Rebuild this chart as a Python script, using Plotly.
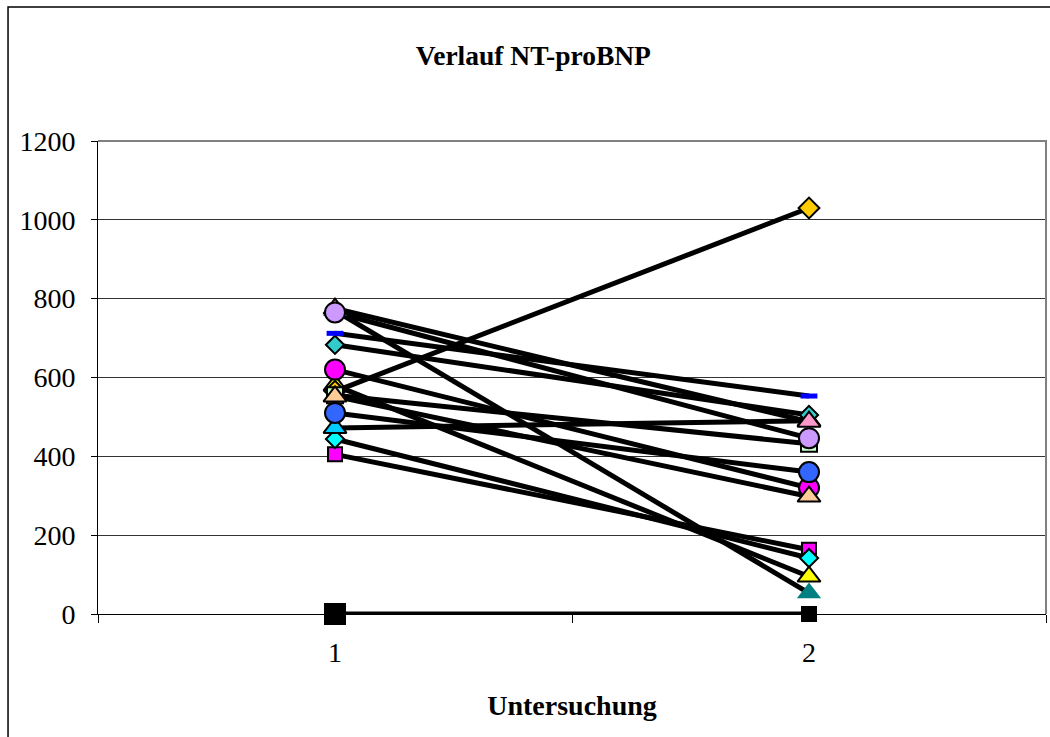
import plotly.graph_objects as go

# ---- data ----
visits = ["1", "2"]
y_ticks = [0, 200, 400, 600, 800, 1000, 1200]

black_square = [0, 0]
magenta_square = [405, 163]
cyan_diamond = [444, 142]
cyan_triangle = [472, 490]
yellow_triangle = [580, 95]
teal_triangle = [770, 53]
gold_diamond = [565, 1030]
green_square = [555, 432]
teal_diamond = [683, 505]
pink_triangle = [775, 488]
lavender_circle = [765, 446]
magenta_circle = [620, 320]
peach_triangle = [552, 298]
blue_circle = [510, 360]
blue_dash = [712, 553]

# (values, symbol, fill colour, size, outline width)
series = [
    (black_square, "square", "#000000", [20, 14], 2),
    (magenta_square, "square", "#FF00FF", 14, 2),
    (cyan_diamond, "diamond", "#00FFFF", 14, 2),
    (cyan_triangle, "triangle-up", "#00CCFF", 20, 2),
    (yellow_triangle, "triangle-up", "#FFFF00", 20, 2),
    (gold_diamond, "diamond", "#FFCC00", 16, 2),
    (teal_triangle, "triangle-up", "#008080", 21, 0),
    (green_square, "square", "#CCFFCC", 16, 2),
    (teal_diamond, "diamond", "#33CCCC", 14, 2),
    (pink_triangle, "triangle-up", "#FF99CC", 20, 2),
    (lavender_circle, "circle", "#CC99FF", 20, 2),
    (magenta_circle, "circle", "#FF00FF", 20, 2),
    (peach_triangle, "triangle-up", "#FFCC99", 20, 2),
    (blue_circle, "circle", "#3366FF", 20, 2),
]

fig = go.Figure()

# lines first
for vals, *_ in series + [(blue_dash,)]:
    fig.add_trace(go.Scatter(x=visits, y=vals, mode="lines",
                             line=dict(color="black", width=5),
                             showlegend=False, cliponaxis=False, hoverinfo="skip"))

# markers on top
for vals, sym, col, size, lw in series:
    fig.add_trace(go.Scatter(x=visits, y=vals, mode="markers",
                             marker=dict(symbol=sym, color=col, size=size, opacity=1,
                                         line=dict(color="black", width=lw)),
                             showlegend=False, cliponaxis=False))
fig.add_trace(go.Scatter(x=visits, y=blue_dash, mode="markers",
                         marker=dict(symbol="line-ew-open", size=12, color="#0000FF",
                                     line=dict(color="#0000FF", width=5)),
                         showlegend=False, cliponaxis=False))

serif = "Liberation Serif, Times New Roman, serif"

fig.update_layout(
    width=1050, height=737,
    margin=dict(l=98, r=4, t=141, b=123),
    paper_bgcolor="white", plot_bgcolor="white",
    font=dict(family=serif, size=28, color="black"),
    title=dict(text="<b>Verlauf NT-proBNP</b>", x=0.508, xanchor="center",
               y=1 - 55 / 737, yanchor="middle",
               font=dict(family=serif, size=27.5, color="black")),
    xaxis=dict(type="category", range=[-0.5, 1.5], tickson="boundaries",
               ticks="outside", ticklen=8, tickcolor="black",
               showline=True, linecolor="black", linewidth=1,
               showgrid=False, zeroline=False,
               ticklabelstandoff=13,
               tickfont=dict(family=serif, size=28),
               title=dict(text="<b>Untersuchung</b>", standoff=28,
                          font=dict(family=serif, size=28))),
    yaxis=dict(range=[0, 1200], tickvals=y_ticks,
               ticks="outside", ticklen=6, tickcolor="black",
               showline=True, linecolor="black", linewidth=1,
               showgrid=True, gridcolor="#333333", gridwidth=1,
               zeroline=False, ticklabelstandoff=10,
               tickfont=dict(family=serif, size=28)),
    shapes=[
        dict(type="path", xref="paper", yref="paper",
             path="M 0,1 L 1,1 L 1,0", line=dict(color="#808080", width=2)),
        dict(type="rect", xref="paper", yref="paper",
             x0=-0.0949, x1=1.02, y0=-0.35, y1=1.2833,
             line=dict(color="black", width=1.5)),
    ],
)

fig.write_html("out.html")
